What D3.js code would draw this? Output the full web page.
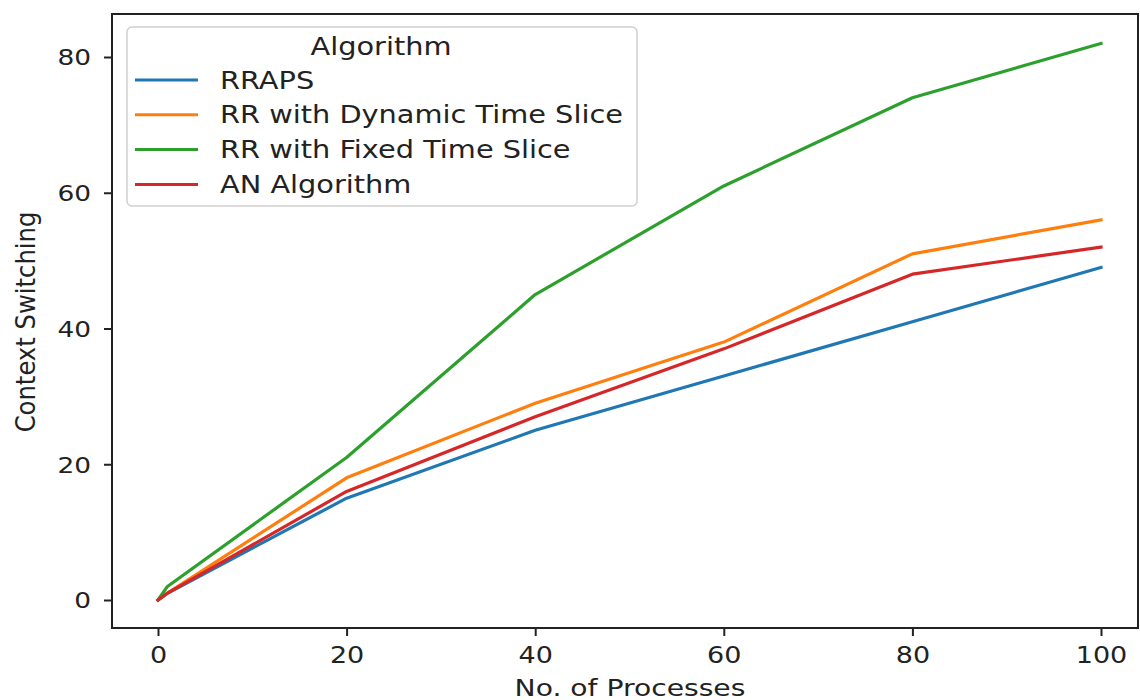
<!DOCTYPE html>
<html>
<head>
<meta charset="utf-8">
<script src="https://cdn.jsdelivr.net/npm/d3@7"></script>
<style>
  body { margin: 0; background: #fff; }
  svg text { font-family: "DejaVu Sans", sans-serif; fill: #222; }
</style>
</head>
<body>
<svg id="chart" width="1140" height="700"></svg>
<script>
// number of processes
const processes = [0, 1, 20, 40, 60, 80, 100]

// context switching per algorithm
const rraps   = [0, 1, 15, 25, 33, 41, 49]
const rrDyn   = [0, 1, 18, 29, 38, 51, 56]
const rrFixed = [0, 2, 21, 45, 61, 74, 82]
const anAlgo  = [0, 1, 16, 27, 37, 48, 52]

const seriesNames = ["RRAPS", "RR with Dynamic Time Slice", "RR with Fixed Time Slice", "AN Algorithm"]
const seriesValues = [rraps, rrDyn, rrFixed, anAlgo]
const colors = ["#1f77b4", "#ff7f0e", "#2ca02c", "#d62728"]

const xTicks = [0, 20, 40, 60, 80, 100]
const yTicks = [0, 20, 40, 60, 80]

const sx = 1.2  // picture is a bit wider than tall

const svg = d3.select("#chart")

// frame
const frameL = 112, frameR = 1138, frameT = 14, frameB = 628

var x = d3.scaleLinear().domain([0, 100]).range([158, 1101])
var y = d3.scaleLinear().domain([0, 80]).range([600, 57])

// lines
var line = d3.line()
  .x(function (d, i) { return x(processes[i]) })
  .y(function (d) { return y(d) })

svg.append("g")
  .selectAll("path")
  .data(seriesValues)
  .enter()
  .append("path")
  .attr("d", line)
  .attr("fill", "none")
  .attr("stroke", function (d, i) { return colors[i] })
  .attr("stroke-width", 3.2)
  .attr("stroke-linejoin", "round")
  .attr("stroke-linecap", "square")

// axes
var xAxis = d3.axisBottom(x).tickValues(xTicks).tickSize(8).tickSizeOuter(0)
var gx = svg.append("g")
  .attr("transform", "translate(0," + frameB + ")")
  .call(xAxis)
gx.select(".domain").remove()
gx.selectAll("line").attr("stroke", "#222").attr("stroke-width", 2)
gx.selectAll("text")
  .attr("y", 35).attr("dy", 0)
  .attr("font-size", 22.5)
  .attr("transform", "scale(" + sx + ",1)")
  .attr("x", 0)

var yAxis = d3.axisLeft(y).tickValues(yTicks).tickSize(8).tickSizeOuter(0)
var gy = svg.append("g")
  .attr("transform", "translate(" + frameL + ",0)")
  .call(yAxis)
gy.select(".domain").remove()
gy.selectAll("line").attr("stroke", "#222").attr("stroke-width", 2)
gy.selectAll("text")
  .attr("x", -21 / sx)
  .attr("dy", "0.36em")
  .attr("font-size", 22)
  .attr("transform", "scale(" + sx + ",1)")

svg.append("rect")
  .attr("x", frameL).attr("y", frameT)
  .attr("width", frameR - frameL).attr("height", frameB - frameT)
  .attr("fill", "none")
  .attr("stroke", "#222")
  .attr("stroke-width", 2)

// axis titles
svg.append("text")
  .attr("transform", "translate(630,696) scale(" + sx + ",1)")
  .attr("text-anchor", "middle")
  .attr("font-size", 23.5)
  .text("No. of Processes")

svg.append("text")
  .attr("transform", "translate(35,322) rotate(-90)")
  .attr("text-anchor", "middle")
  .attr("font-size", 27)
  .style("font-family", "'DejaVu Sans Condensed', 'DejaVu Sans', sans-serif")
  .style("font-stretch", "condensed")
  .text("Context Switching")

// legend
var legend = svg.append("g")
legend.append("rect")
  .attr("x", 127).attr("y", 27)
  .attr("width", 510).attr("height", 179)
  .attr("rx", 5)
  .attr("fill", "#fff").attr("fill-opacity", 0.8)
  .attr("stroke", "#d0d0d0").attr("stroke-width", 1.5)

legend.append("text")
  .attr("transform", "translate(381,55) scale(" + sx + ",1)")
  .attr("text-anchor", "middle")
  .attr("font-size", 24)
  .text("Algorithm")

var items = legend.selectAll(".item")
  .data(seriesNames)
  .enter()
  .append("g")
  .attr("class", "item")
  .attr("transform", function (d, i) { return "translate(0," + (80 + i * 34.8) + ")" })

items.append("line")
  .attr("x1", 135).attr("x2", 198)
  .attr("stroke", function (d, i) { return colors[i] })
  .attr("stroke-width", 3)

items.append("text")
  .attr("transform", "translate(220,8.5) scale(" + sx + ",1)")
  .attr("font-size", 24)
  .text(function (d) { return d })
</script>
</body>
</html>
